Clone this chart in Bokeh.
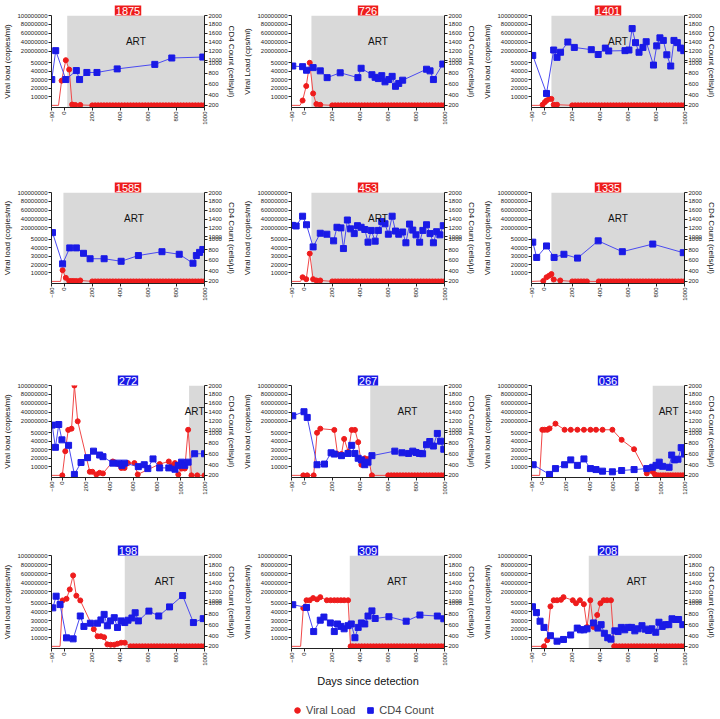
import math
from bokeh.plotting import figure
from bokeh.models import (FixedTicker, LinearAxis, BoxAnnotation, Label, Range1d,
                          Legend, LegendItem)
from bokeh.layouts import column, row
from bokeh.embed import file_html
from bokeh.resources import INLINE

FONT = "Liberation Sans"
RED = "#ee1c1c"
BLUE = "#1a1ae6"
RED_LINE = "#f04848"
BLUE_LINE = "#4a4af0"
GRAY = "#d9d9d9"

# ---------------- data ----------------
# Regular sampling days of the undetectable (zero) viral-load follow-up
ZERO_GRID = [200, 221, 242, 263, 284, 305, 326, 347, 368, 389, 410, 431, 452, 473,
             494, 515, 536, 557, 578, 599, 620, 641, 662, 683, 704, 725, 746, 767,
             788, 809, 830, 851, 872, 893, 914, 935, 956, 977, 998, 1019, 1040,
             1061, 1082, 1103, 1124, 1145, 1166, 1187]

X_TICKS_1000 = [-90, 0, 200, 400, 600, 800, 1000]
X_TICKS_1200 = [-90, 0, 200, 400, 600, 800, 1000, 1200]
VL_TICKS_LOW = [10000, 20000, 30000, 40000, 50000]
VL_TICKS_HIGH = [20000000, 40000000, 60000000, 80000000, 100000000]
CD4_TICKS_LOW = [200, 400, 600, 800, 1000]
CD4_TICKS_HIGH = [1000, 1200, 1400, 1600, 1800, 2000]

# 1875
P1875_CD4_DAY = [-88, -60, 12, 87, 110, 162, 234, 378, 646, 767, 988]
P1875_CD4 = [685, 1214, 685, 854, 685, 818, 818, 885, 970, 1050, 1071]
P1875_NEG = [-90, -40]
P1875_VL_DAY = [-18, 12, 36, 57, 80, 115]
P1875_VL = [29000, 60000, 42000, 1000, 500, 500]
P1875_ZERO = [(200, 1000)]
P1875_ART = 22

# 726
P726_CD4_DAY = [-81, -11, 17, 64, 115, 164, 257, 383, 406, 483, 506, 529, 553, 576,
                604, 627, 651, 674, 702, 872, 897, 921, 988]
P726_CD4 = [939, 927, 860, 909, 848, 721, 812, 721, 897, 776, 727, 703, 758, 642,
            685, 745, 558, 612, 673, 879, 848, 685, 976]
P726_NEG = [-90, -29]
P726_VL_DAY = [-11, 15, 40, 64, 87, 115]
P726_VL = [5700, 22700, 50000, 14000, 1500, 700]
P726_ZERO = [(200, 1000)]
P726_ART = 52

# 1401
P1401_CD4_DAY = [-81, 17, 68, 92, 117, 169, 215, 336, 385, 436, 460, 576, 604, 627,
                 651, 676, 704, 727, 779, 802, 825, 849, 874, 902, 925, 949, 972, 995]
P1401_CD4 = [1107, 424, 1228, 1064, 1178, 1407, 1286, 1236, 1128, 1271, 1207, 1214,
             1228, 1707, 1393, 1178, 1286, 1414, 957, 1321, 1500, 1443, 1121, 939,
             1443, 1393, 1271, 1214]
P1401_NEG = [-90, -25]
P1401_VL_DAY = [-11, 5, 17, 36, 52, 68, 92]
P1401_VL = [800, 3800, 5700, 7600, 7600, 800, 800]
P1401_ZERO = [(200, 1000)]
P1401_ART = 52

# 1585
P1585_CD4_DAY = [-83, -11, 40, 87, 138, 185, 285, 406, 529, 697, 820, 918, 942, 965, 988]
P1585_CD4 = [1093, 533, 836, 836, 733, 630, 630, 582, 691, 764, 715, 545, 691, 751, 806]
P1585_NEG = [-90, -25]
P1585_VL_DAY = [-11, 12, 36, 52, 68, 87, 115]
P1585_VL = [13300, 4200, 500, 500, 500, 500, 1100]
P1585_ZERO = [(200, 1000)]
P1585_ART = -5

# 453
P453_CD4_DAY = [-83, -57, -11, 17, 64, 115, 162, 210, 234, 262, 280, 308, 331, 357,
                380, 406, 432, 455, 478, 506, 529, 553, 576, 600, 627, 651, 674, 702,
                725, 751, 774, 797, 823, 846, 872, 897, 921, 944, 967, 991]
P453_CD4 = [1257, 1243, 1464, 1271, 855, 1079, 1057, 970, 1214, 1200, 824, 1378,
            1178, 1071, 1250, 1214, 1164, 945, 1143, 964, 1143, 1343, 1293, 1057,
            1464, 1128, 1057, 1107, 933, 1286, 1150, 1043, 945, 1143, 1271, 1071,
            933, 1114, 1043, 1250]
P453_NEG = [-90, -25]
P453_VL_DAY = [-11, 15, 40, 64, 87, 115]
P453_VL = [4900, 2650, 33000, 2650, 1100, 1100]
P453_ZERO = [(200, 1000)]
P453_ART = 52

# 1335
P1335_CD4_DAY = [-81, -53, 17, 71, 141, 238, 385, 557, 774, 991]
P1335_CD4 = [945, 655, 873, 655, 715, 642, 970, 764, 909, 745]
P1335_NEG = [-90]
P1335_VL_DAY = [-6, 17, 36, 52, 68, 115]
P1335_VL = [500, 4900, 6800, 8700, 2300, 1100]
P1335_ZERO = [(200, 320), (380, 1000)]
P1335_ART = 52

# 272
P272_CD4_DAY = [-84, -57, -29, -2, 54, 103, 159, 214, 264, 316, 344, 427, 476, 504,
                526, 642, 692, 722, 766, 822, 899, 951, 979, 1007, 1034, 1062, 1117, 1200]
P272_CD4 = [1114, 727, 1128, 867, 764, 218, 442, 533, 655, 582, 551, 430, 430, 388,
            430, 364, 400, 327, 509, 340, 340, 315, 388, 448, 388, 448, 606, 606]
P272_NEG = [-90]
P272_VL_DAY = [1, 26, 51, 79, 103, 131, 233, 255, 288, 316, 344, 427, 449, 471, 499,
               526, 554, 609, 637, 822, 899, 924, 951, 979, 1007, 1034, 1062, 1090,
               1139, 1200]
P272_VL = [0, 28400, 700000, 3500000, 100000000, 20000000, 4200, 4200, 1100, 3000,
           2300, 16300, 14800, 13300, 8700, 8700, 14400, 14400, 1100, 13300, 16300,
           11700, 14400, 1100, 8000, 8000, 1000000, 0, 0, 0]
P272_ZERO = []
P272_ART = 1070

# 267
P267_CD4_DAY = [-81, -1, 22, 92, 145, 192, 215, 266, 313, 339, 362, 385, 408, 432,
                455, 483, 646, 697, 744, 774, 797, 821, 844, 872, 895, 921, 949, 972, 995]
P267_CD4 = [1321, 1414, 1286, 400, 412, 624, 600, 570, 612, 764, 612, 521, 491, 400,
            448, 570, 655, 624, 612, 655, 630, 612, 606, 776, 836, 751, 988, 842, 691]
P267_NEG = [-90]
P267_VL_DAY = [-6, 22, 68, 92, 115, 215, 238, 266, 285, 315, 339, 362, 385, 408,
               432, 459, 483]
P267_VL = [0, 0, 0, 50000, 3500000, 700000, 25000, 25000, 42800, 27600, 700000,
           700000, 39000, 12500, 20000, 19300, 0]
P267_ZERO = [(580, 1000)]
P267_ART = 471

# 036
P036_CD4_DAY = [-76, 62, 112, 189, 241, 297, 352, 407, 454, 509, 592, 670, 775, 882,
                932, 960, 987, 1015, 1070, 1092, 1117, 1145, 1172, 1200]
P036_CD4 = [400, 218, 327, 400, 491, 388, 509, 327, 309, 279, 267, 291, 309, 327,
            352, 388, 448, 370, 352, 582, 491, 503, 721, 600]
P036_NEG = [-90, -21]
P036_VL_DAY = [1, 20, 43, 62, 112, 189, 241, 297, 352, 407, 454, 509, 592, 670, 775,
               882, 932, 951]
P036_VL = [1000000, 1000000, 1000000, 4000000, 14700000, 1000000, 1000000, 1000000,
           1000000, 1000000, 1000000, 1000000, 1000000, 41700, 30700, 2300, 4200, 1000]
P036_ZERO = [(970, 1200)]
P036_ART = 932

# 198
P198_CD4_DAY = [-81, -57, -29, 17, 64, 115, 141, 187, 238, 262, 285, 308, 331, 357,
                380, 406, 432, 455, 483, 506, 529, 604, 674, 751, 844, 921, 991]
P198_CD4 = [915, 1100, 976, 358, 339, 764, 570, 630, 630, 691, 794, 582, 673, 733,
            551, 673, 642, 685, 727, 824, 673, 855, 764, 933, 1114, 642, 715]
P198_NEG = [-90, -29]
P198_VL_DAY = [-11, 17, 40, 64, 87, 115, 211, 238, 262, 285, 308, 331, 357, 380, 406, 432]
P198_VL = [700000, 4200000, 25000000, 56000000, 11000000, 700000, 20000, 11700,
           11700, 10600, 2300, 1900, 1900, 3000, 4200, 4200]
P198_ZERO = [(455, 1000)]
P198_ART = 432

# 309
P309_CD4_DAY = [-81, 17, 68, 115, 141, 187, 215, 238, 262, 285, 313, 336, 362, 385,
                408, 432, 455, 483, 506, 604, 727, 825, 949, 995]
P309_CD4 = [974, 923, 475, 686, 744, 635, 475, 616, 571, 526, 584, 616, 360, 552,
            635, 616, 763, 859, 718, 750, 667, 782, 763, 712]
P309_NEG = [-90, -25]
P309_VL_DAY = [-6, 17, 40, 64, 92, 115, 162, 189, 215, 238, 262, 285, 313, 331]
P309_VL = [44400, 1000000, 1000000, 5800000, 2900000, 7900000, 1000000, 1000000,
           1000000, 1000000, 1000000, 1000000, 1000000, 0]
P309_ZERO = [(340, 1000)]
P309_ART = 325

# 208
P208_CD4_DAY = [-83, -55, -29, -1, 45, 92, 138, 189, 236, 259, 283, 306, 352, 383,
                406, 429, 453, 476, 504, 527, 550, 574, 599, 623, 646, 669, 697, 720,
                744, 767, 795, 818, 841, 865, 888, 911, 935, 958, 988]
P208_CD4 = [936, 827, 667, 552, 398, 296, 328, 411, 539, 507, 507, 526, 635, 539,
            603, 443, 360, 334, 488, 475, 552, 507, 552, 552, 488, 526, 584, 520,
            494, 526, 462, 648, 571, 603, 603, 712, 699, 699, 603]
P208_NEG = [-90]
P208_VL_DAY = [-1, 22, 45, 68, 92, 120, 138, 204, 227, 255, 283, 306, 329, 352, 378,
               401, 424, 448, 476, 499]
P208_VL = [0, 7200, 46400, 1000000, 1000000, 2000000, 7900000, 1000000, 50000,
           1000000, 49000, 22400, 1000000, 22400, 36400, 50000, 1000000, 1000000,
           1000000, 0]
P208_ZERO = [(510, 1000)]
P208_ART = 318

# ---------------- broken-axis mapping ----------------
GAP = 0.06
UP_H = 1.05
TOP = 1 + GAP + UP_H
BOTTOM = -0.05


def vl_y(v):
    return v / 50000.0 if v <= 50000 else 1 + GAP + v / 1e8 * UP_H


def cd4_y(c):
    return (c - 200) / 800.0 if c <= 1000 else 1 + GAP + (c - 1000) / 1000.0 * UP_H


def cd4_up(c):
    return 1 + GAP + (c - 1000) / 1000.0 * UP_H


LEFT_POS = [vl_y(v) for v in VL_TICKS_LOW] + [vl_y(v) for v in VL_TICKS_HIGH]
LEFT_LAB = [str(v) for v in VL_TICKS_LOW] + [str(v) for v in VL_TICKS_HIGH]
RIGHT_POS = [cd4_y(c) for c in CD4_TICKS_LOW] + [cd4_up(c) for c in CD4_TICKS_HIGH]
RIGHT_LAB = [str(c) for c in CD4_TICKS_LOW] + [str(c) for c in CD4_TICKS_HIGH]


def style_axis(ax, label_size="6px"):
    ax.axis_line_color = "#222222"
    ax.major_tick_line_color = "#222222"
    ax.major_tick_out = 3
    ax.major_tick_in = 0
    ax.minor_tick_line_color = None
    ax.major_label_text_font = FONT
    ax.major_label_text_font_size = label_size
    ax.major_label_text_color = "#222222"
    ax.major_label_standoff = 1
    ax.axis_label_text_font = FONT
    ax.axis_label_text_font_size = "8px"
    ax.axis_label_text_font_style = "normal"
    ax.axis_label_text_color = "#111111"
    ax.axis_label_standoff = 2


def make_panel(pid, color, x_end, art, cd4_day, cd4, neg, vl_day, vl, zero_ranges,
               ylabel, height, bottom, xlabel=None):
    p = figure(width=240, height=height, x_range=Range1d(-90, x_end),
               y_range=Range1d(BOTTOM, TOP), output_backend="svg",
               toolbar_location=None, min_border_left=48, min_border_right=36,
               min_border_top=15, min_border_bottom=bottom, title=pid)
    p.outline_line_color = None
    p.grid.visible = False
    p.background_fill_color = "white"
    p.border_fill_color = "white"
    p.title.align = "center"
    p.title.text_color = "white"
    p.title.background_fill_color = color
    p.title.text_font = FONT
    p.title.text_font_size = "11px"
    p.title.text_font_style = "normal"
    p.title.standoff = 0
    p.title.padding = 1

    p.add_layout(BoxAnnotation(left=art, fill_color=GRAY, fill_alpha=1.0,
                               line_color=None, level="underlay"))
    if x_end - art > 250:
        lab = Label(x=(art + x_end) / 2.0, y=1.5, text="ART", text_align="center",
                    text_baseline="middle")
    else:
        lab = Label(x=x_end, y=1.5, text="ART", text_align="right",
                    text_baseline="middle")
    lab.text_font = FONT
    lab.text_font_size = "10px"
    lab.text_color = "#111111"
    p.add_layout(lab)

    zd = [d for d in ZERO_GRID if any(a <= d <= b for a, b in zero_ranges)]
    pts = sorted(list(zip(neg, [0] * len(neg))) + list(zip(vl_day, vl)) +
                 list(zip(zd, [0] * len(zd))))
    p.line([a for a, _ in pts], [vl_y(b) for _, b in pts], line_color=RED_LINE,
           line_width=1)
    mx = vl_day + zd
    my = [vl_y(v) for v in vl] + [0.0] * len(zd)
    p.scatter(mx, my, marker="circle", size=5, fill_color=RED, line_color=RED)

    p.line(cd4_day, [cd4_y(c) for c in cd4], line_color=BLUE_LINE, line_width=1)
    p.scatter(cd4_day, [cd4_y(c) for c in cd4], marker="square", size=6,
              fill_color=BLUE, line_color=BLUE)

    xt = X_TICKS_1200 if x_end > 1000 else X_TICKS_1000
    p.xaxis.ticker = FixedTicker(ticks=xt)
    p.xaxis.major_label_orientation = math.pi / 2
    style_axis(p.xaxis[0])
    if xlabel:
        p.xaxis.axis_label = xlabel
        p.xaxis.axis_label_text_font_size = "11px"
        p.xaxis.axis_label_standoff = 6

    p.yaxis.ticker = FixedTicker(ticks=LEFT_POS)
    p.yaxis.major_label_overrides = dict(zip(LEFT_POS, LEFT_LAB))
    p.yaxis.axis_label = ylabel
    style_axis(p.yaxis[0])

    ra = LinearAxis(ticker=FixedTicker(ticks=RIGHT_POS),
                    major_label_overrides=dict(zip(RIGHT_POS, RIGHT_LAB)),
                    axis_label="CD4 Count (cells/\u03bcl)")
    style_axis(ra)
    p.add_layout(ra, "right")
    return p


VL_LABEL = "Viral load (copies/ml)"
R1 = dict(height=177, bottom=70)
R2 = dict(height=193, bottom=87)
R3 = dict(height=170, bottom=63)
R4 = dict(height=152, bottom=44)

f1 = make_panel("1875", RED, 1000, P1875_ART, P1875_CD4_DAY, P1875_CD4, P1875_NEG,
                P1875_VL_DAY, P1875_VL, P1875_ZERO, VL_LABEL, **R1)
f2 = make_panel("726", RED, 1000, P726_ART, P726_CD4_DAY, P726_CD4, P726_NEG,
                P726_VL_DAY, P726_VL, P726_ZERO, "Viral Load (cps/ml)", **R1)
f3 = make_panel("1401", RED, 1000, P1401_ART, P1401_CD4_DAY, P1401_CD4, P1401_NEG,
                P1401_VL_DAY, P1401_VL, P1401_ZERO, VL_LABEL, **R1)
f4 = make_panel("1585", RED, 1000, P1585_ART, P1585_CD4_DAY, P1585_CD4, P1585_NEG,
                P1585_VL_DAY, P1585_VL, P1585_ZERO, VL_LABEL, **R2)
f5 = make_panel("453", RED, 1000, P453_ART, P453_CD4_DAY, P453_CD4, P453_NEG,
                P453_VL_DAY, P453_VL, P453_ZERO, VL_LABEL, **R2)
f6 = make_panel("1335", RED, 1000, P1335_ART, P1335_CD4_DAY, P1335_CD4, P1335_NEG,
                P1335_VL_DAY, P1335_VL, P1335_ZERO, VL_LABEL, **R2)
f7 = make_panel("272", BLUE, 1200, P272_ART, P272_CD4_DAY, P272_CD4, P272_NEG,
                P272_VL_DAY, P272_VL, P272_ZERO, VL_LABEL, **R3)
f8 = make_panel("267", BLUE, 1000, P267_ART, P267_CD4_DAY, P267_CD4, P267_NEG,
                P267_VL_DAY, P267_VL, P267_ZERO, VL_LABEL, **R3)
f9 = make_panel("036", BLUE, 1200, P036_ART, P036_CD4_DAY, P036_CD4, P036_NEG,
                P036_VL_DAY, P036_VL, P036_ZERO, VL_LABEL, **R3)
f10 = make_panel("198", BLUE, 1000, P198_ART, P198_CD4_DAY, P198_CD4, P198_NEG,
                 P198_VL_DAY, P198_VL, P198_ZERO, VL_LABEL, **R4)
f11 = make_panel("309", BLUE, 1000, P309_ART, P309_CD4_DAY, P309_CD4, P309_NEG,
                 P309_VL_DAY, P309_VL, P309_ZERO, VL_LABEL,
                 xlabel="Days since detection", **R4)
f12 = make_panel("208", BLUE, 1000, P208_ART, P208_CD4_DAY, P208_CD4, P208_NEG,
                 P208_VL_DAY, P208_VL, P208_ZERO, VL_LABEL, **R4)

# legend strip (its glyph renderers hold one point outside the visible range,
# only so that the legend can draw their symbols)
lg = figure(width=720, height=27, x_range=Range1d(0, 1), y_range=Range1d(0, 1),
            output_backend="svg", toolbar_location=None, min_border=0)
lg.axis.visible = False
lg.grid.visible = False
lg.outline_line_color = None
lr = lg.scatter(x=[-5], y=[-5], marker="circle", size=8, fill_color=RED, line_color=RED)
lb = lg.scatter(x=[-5], y=[-5], marker="square", size=8, fill_color=BLUE, line_color=BLUE)
legend = Legend(items=[LegendItem(label="Viral Load", renderers=[lr]),
                       LegendItem(label="CD4 Count", renderers=[lb])],
                orientation="horizontal", location=(290, 2))
legend.label_text_font = FONT
legend.label_text_font_size = "11px"
legend.glyph_width = 14
legend.glyph_height = 14
legend.label_standoff = 2
legend.spacing = 8
legend.padding = 0
legend.margin = 0
legend.border_line_color = None
legend.background_fill_alpha = 0
lg.add_layout(legend)

layout = column(row(f1, f2, f3), row(f4, f5, f6), row(f7, f8, f9),
                row(f10, f11, f12), lg)

with open("out.html", "w") as fh:
    fh.write(file_html(layout, INLINE))
